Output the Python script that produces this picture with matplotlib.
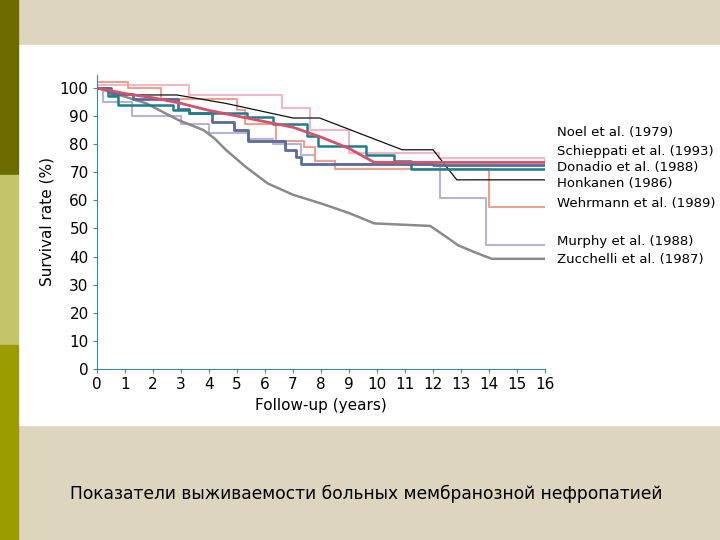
import matplotlib
matplotlib.use("Agg")
import matplotlib.pyplot as plt
from matplotlib.patches import Rectangle

# Data (years, survival %)
noel_x = [0, 1, 2, 3, 4, 5, 6, 7, 8, 9, 9.9, 16]
noel_y = [100, 98, 96.5, 94.5, 92, 90, 88, 86, 82.5, 78.5, 73.5, 73.5]
schi_x = [0, 0.5, 1.3, 2.9, 3.3, 4.1, 4.9, 5.4, 6.7, 7.1, 7.3, 7.8, 12.0, 16]
schi_y = [100, 98, 96, 92.5, 91, 88, 85, 81, 78, 75.5, 73, 73, 72.5, 72.5]
dona_x = [0, 0.4, 0.75, 2.7, 3.3, 5.35, 6.3, 7.5, 7.9, 9.6, 10.6, 11.2, 16]
dona_y = [100, 97, 94, 92, 91, 89.5, 87, 83, 79.5, 76, 74, 71, 71]
honk_x = [0, 1.06, 2.85, 4.6, 7.0, 7.95, 10.9, 12.0, 12.2, 12.85, 16]
honk_y = [100, 97.5, 97.5, 94.5, 89.3, 89.3, 78, 78, 75.5, 67.3, 67.3]
wehr_x = [0, 1.1, 2.3, 5.0, 5.3, 6.4, 7.4, 7.8, 8.5, 14.0, 16]
wehr_y = [102, 100, 96, 92, 87, 81, 79, 74, 71, 57.5, 57.5]
murp_x = [0, 0.2, 1.24, 3.0, 4.0, 5.4, 6.3, 7.3, 7.8, 8.5, 12.25, 13.9, 16]
murp_y = [100, 95, 90, 87, 84, 82, 80, 76, 74, 73, 61, 44, 44]
zucc_x = [0, 0.8, 1.76, 2.9, 3.8, 4.2, 4.6, 5.3, 6.1, 7.0, 8.0, 9.0, 9.9, 11.9, 12.4, 12.9, 13.5, 14.1, 16]
zucc_y = [100, 97.5, 94.5, 88.6, 85, 82, 78, 72, 66, 62, 58.9, 55.5, 51.8, 50.9, 47.5, 44, 41.5, 39.2, 39.2]
light_x = [0, 2.3, 3.3, 6.6, 7.6, 9.0, 12.2, 16]
light_y = [101, 101, 97.5, 93, 85, 77, 75, 74]

labels = ["Noel et al. (1979)", "Schieppati et al. (1993)", "Donadio et al. (1988)",
          "Honkanen (1986)", "Wehrmann et al. (1989)", "Murphy et al. (1988)",
          "Zucchelli et al. (1987)"]
label_y = [133, 151, 167, 184, 204, 242, 259]

fig = plt.figure(figsize=(7.2, 5.4), dpi=100)
fig.patch.set_facecolor("#ddd5bd")
W, H = 720, 540
def fr(x0, y0, w, h, c):
    fig.add_artist(Rectangle((x0 / W, 1 - (y0 + h) / H), w / W, h / H,
                             transform=fig.transFigure, color=c, zorder=0))
fr(18, 45, 702, 380, "white")
fr(0, 0, 18, 175, "#6b6b00")
fr(0, 175, 18, 170, "#c4c46a")
fr(0, 345, 18, 195, "#9c9c00")

ax = fig.add_axes([97 / W, 1 - 369 / H, (545 - 97) / W, (369 - 75) / H])
ax.set_xlim(0, 16)
ax.set_ylim(0, 104.6)
ax.patch.set_alpha(0)
for s in ["top", "right"]:
    ax.spines[s].set_visible(False)
for s in ["left", "bottom"]:
    ax.spines[s].set_color("#3a8a9a")
ax.set_xticks(range(0, 17))
ax.set_yticks(range(0, 101, 10))
ax.tick_params(labelsize=11, length=3, color="#3a8a9a", pad=3)
ax.set_xlabel("Follow-up (years)", fontsize=11)
ax.set_ylabel("Survival rate (%)", fontsize=11)

ax.step(light_x, light_y, where="post", color="#f4b8c4", lw=1.5)
ax.step(murp_x, murp_y, where="post", color="#b4b4d4", lw=1.5)
ax.step(wehr_x, wehr_y, where="post", color="#f0a090", lw=1.5)
ax.plot(zucc_x, zucc_y, color="#8a8a8a", lw=1.8)
ax.plot(honk_x, honk_y, color="#111111", lw=0.9)
ax.step(schi_x, schi_y, where="post", color="#5a6a9a", lw=2)
ax.step(dona_x, dona_y, where="post", color="#1a7f8a", lw=1.8)
ax.plot(noel_x, noel_y, color="#d9506a", lw=2)

for lab, ly in zip(labels, label_y):
    fig.text(557 / W, 1 - ly / H, lab, fontsize=9.5, va="center", ha="left")

fig.text(366 / W, 1 - 494 / H,
         "Показатели выживаемости больных мембранозной нефропатией",
         fontsize=12.3, ha="center", va="center")
fig.savefig("out.png", dpi=100)
